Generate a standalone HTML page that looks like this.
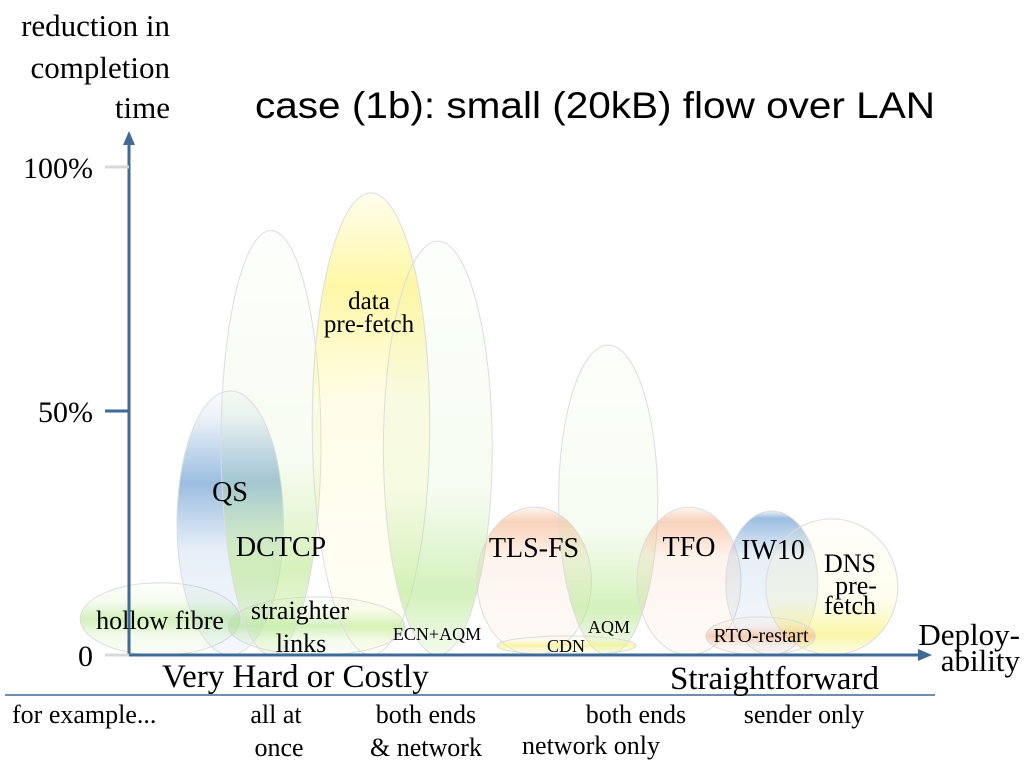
<!DOCTYPE html>
<html><head><meta charset="utf-8"><style>
body{margin:0;background:#fff;width:1024px;height:768px;overflow:hidden}
svg{display:block}
text{font-family:"Liberation Serif",serif;fill:#000}
</style></head><body>
<svg id="c" width="1024" height="768">
<defs></defs>
<g id="ells"></g>
<g id="axes">
<line x1="129" y1="655" x2="129" y2="142" stroke="#3f6a96" stroke-width="3"/>
<polygon points="129,131 123,145 135,145" fill="#3f6a96"/>
<line x1="127" y1="655" x2="920" y2="655" stroke="#3f6a96" stroke-width="3"/>
<polygon points="932,655 918,649 918,661" fill="#3f6a96"/>
<line x1="5" y1="695" x2="935" y2="695" stroke="#3f6a96" stroke-width="1.5"/>
</g>
<g id="ticks"></g>
<text x="170" y="36" font-size="31" text-anchor="end">reduction in</text>
<text x="170" y="78" font-size="31" text-anchor="end">completion</text>
<text x="170" y="118" font-size="31" text-anchor="end">time</text>
<text x="255" y="118" font-size="37" textLength="680" lengthAdjust="spacingAndGlyphs" style="font-family:'Liberation Sans',sans-serif">case (1b): small (20kB) flow over LAN</text>
<text x="1020" y="645" font-size="31" text-anchor="end">Deploy-</text>
<text x="1020" y="671" font-size="31" text-anchor="end">ability</text>
<text x="162" y="687" font-size="33">Very Hard or Costly</text>
<text x="670" y="689" font-size="33">Straightforward</text>
<g font-size="26">
<text x="12" y="723">for example...</text>
<text x="276" y="723" text-anchor="middle">all at</text>
<text x="279" y="756" text-anchor="middle">once</text>
<text x="426" y="723" text-anchor="middle">both ends</text>
<text x="426" y="756" text-anchor="middle">&amp; network</text>
<text x="636" y="723" text-anchor="middle">both ends</text>
<text x="591" y="754" text-anchor="middle">network only</text>
<text x="804" y="723" text-anchor="middle">sender only</text>
</g>
<g id="labels"></g>
</svg>
<script>
const names=["hollow fibre","straighter links","QS","DCTCP","data pre-fetch","ECN+AQM","TLS-FS","AQM","CDN","TFO","IW10","DNS pre-fetch","RTO-restart"];
const deployLeft=[-6.1,12.4,6.0,11.5,22.9,31.8,43.5,53.7,46.0,63.5,74.6,79.6,72.1];
const deployRight=[13.9,34.5,19.3,24.0,37.6,45.4,57.8,66.1,63.4,76.5,86.1,96.1,85.8];
const reduction=[14.8,11.9,54.1,87.0,94.7,84.8,30.3,63.5,3.9,30.3,29.5,27.9,7.8];
const colors=["#b6e890","#b6e890","#5a92cc","#bde890","#fff26a","#b6e890","#f4b48c","#b6e890","#f6f070","#f4b48c","#5a92cc","#f6f070","#f4b48c"];
const bandPos=[0.5,0.5,0.35,0.8,0.2,0.85,0.1,0.85,0.5,0.1,0.05,0.85,0.5];
const tickVals=[0,50,100];
const tickLabels=["0","50%","100%"];
const X=v=>129+v*8, Y=p=>655-p*4.88;
const NS="http://www.w3.org/2000/svg";
const defs=document.querySelector("defs"), eg=document.getElementById("ells");
names.forEach((n,i)=>{
  const g=document.createElementNS(NS,"linearGradient");
  g.setAttribute("id","g"+i);g.setAttribute("x1","0");g.setAttribute("y1","0");g.setAttribute("x2","0");g.setAttribute("y2","1");
  const b=bandPos[i];
  [[0,0.03],[Math.max(0,b-0.25),0.12],[b,0.6],[Math.min(1,b+0.25),0.15],[1,0.06]].forEach(s=>{
    const st=document.createElementNS(NS,"stop");st.setAttribute("offset",s[0]);st.setAttribute("stop-color",colors[i]);st.setAttribute("stop-opacity",s[1]);g.appendChild(st);});
  defs.appendChild(g);
  const e=document.createElementNS(NS,"ellipse");
  const x1=X(deployLeft[i]),x2=X(deployRight[i]),top=Y(reduction[i]);
  e.setAttribute("cx",(x1+x2)/2);e.setAttribute("cy",(top+655)/2);
  e.setAttribute("rx",(x2-x1)/2);e.setAttribute("ry",(655-top)/2);
  e.setAttribute("fill","url(#g"+i+")");e.setAttribute("stroke","#dcdcdc");e.setAttribute("stroke-width","1");
  
  
  eg.appendChild(e);
});
const tg=document.getElementById("ticks");
tickVals.forEach((v,i)=>{
  const l=document.createElementNS(NS,"line");
  l.setAttribute("x1",105);l.setAttribute("x2",129);l.setAttribute("y1",Y(v));l.setAttribute("y2",Y(v));
  l.setAttribute("stroke",v==50?"#3f6a96":"#d8d8d8");l.setAttribute("stroke-width",3);
  
  
  tg.appendChild(l);
  const t=document.createElementNS(NS,"text");
  t.setAttribute("x",93);t.setAttribute("y",Y(v)+11);t.setAttribute("text-anchor","end");t.setAttribute("font-size","30");
  t.textContent=tickLabels[i];
  
  
  tg.appendChild(t);
});
const lab=[["hollow fibre",160,629,26],["straighter",300,619,26],["links",301,652,26],["QS",230,501,28],["DCTCP",281,556,28],["data",369,309,25],["pre-fetch",369,332,25],["ECN+AQM",437,640,18],["TLS-FS",534,557,28],["AQM",609,633,18],["CDN",566,652,18],["TFO",689,556,28],["IW10",773,559,28],["DNS",850,572,26],["pre-",856,594,26],["fetch",850,614,26],["RTO-restart",761,642,20]];
const lg=document.getElementById("labels");
lab.forEach(a=>{
  const t=document.createElementNS(NS,"text");
  t.setAttribute("x",a[1]);t.setAttribute("y",a[2]);t.setAttribute("font-size",a[3]);t.setAttribute("text-anchor","middle");
  t.setAttribute("font-family","Liberation Serif, serif");
  t.textContent=a[0];
  
  
  lg.appendChild(t);
});
</script>
</body></html>
